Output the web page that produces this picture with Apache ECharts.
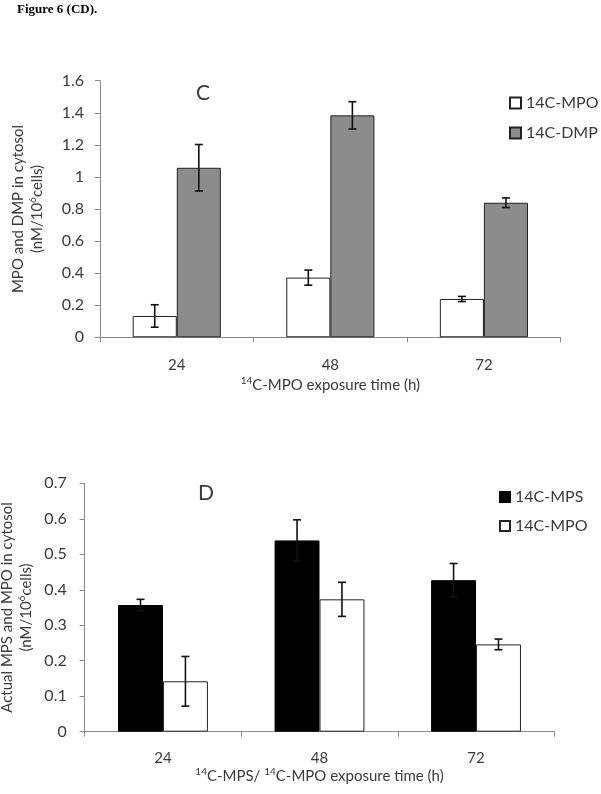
<!DOCTYPE html>
<html>
<head>
<meta charset="utf-8">
<script src="https://cdn.jsdelivr.net/npm/echarts@6/dist/echarts.min.js"></script>
<style>
html,body{margin:0;padding:0;background:#fff;}
#chart{width:601px;height:794px;}
</style>
</head>
<body>
<div id="chart"></div>
<script>
// ---- data ----
const categories = ['24', '48', '72'];
// Panel C
const cMpo = [0.133, 0.372, 0.239];
const cMpoErr = [0.07, 0.047, 0.016];
const cDmp = [1.057, 1.384, 0.839];
const cDmpErr = [0.145, 0.085, 0.03];
// Panel D
const dMps = [0.357, 0.539, 0.427];
const dMpsErr = [0.016, 0.058, 0.047];
const dMpo = [0.142, 0.373, 0.246];
const dMpoErr = [0.07, 0.048, 0.015];
// axis ranges
const cYMax = 1.6, cYStep = 0.2;
const dYMax = 0.7, dYStep = 0.1;

const FONT = 'Lato';
const TXT = '#3a3a3a';
const AX = '#8a8a8a';
const BAR_RATIO = 0.287;

const chart = echarts.init(document.getElementById('chart'), null, {renderer: 'canvas'});

function errSeries(vals, errs, side, xi) {
  return {
    type: 'custom',
    xAxisIndex: xi, yAxisIndex: xi,
    silent: true,
    z: 10,
    data: vals.map((v, i) => [i, v, errs[i]]),
    encode: {x: 0, y: 1},
    renderItem: function (params, api) {
      const i = api.value(0), v = api.value(1), e = api.value(2);
      const band = api.size([1, 0])[0];
      const x = api.coord([i, v])[0] + side * band * BAR_RATIO / 2;
      const yt = api.coord([i, v + e])[1];
      const yb = api.coord([i, v - e])[1];
      const w = 4;
      const st = {stroke: '#111', lineWidth: 1.6};
      return {
        type: 'group',
        children: [
          {type: 'line', shape: {x1: x, y1: yt, x2: x, y2: yb}, style: st},
          {type: 'line', shape: {x1: x - w, y1: yt, x2: x + w, y2: yt}, style: st},
          {type: 'line', shape: {x1: x - w, y1: yb, x2: x + w, y2: yb}, style: st}
        ]
      };
    }
  };
}

const axisNameRich = {
  a: {fontFamily: FONT, fontSize: 15, color: TXT, lineHeight: 19},
  s: {fontFamily: FONT, fontSize: 10, color: TXT, lineHeight: 19, verticalAlign: 'top', padding: [0, 0, 6, 0]}
};

function xAxisDef(gi, name, margin, nameGap) {
  return {
    type: 'category', gridIndex: gi, data: categories,
    axisLine: {lineStyle: {color: AX, width: 1}},
    axisTick: {show: true, length: 5, lineStyle: {color: AX}},
    axisLabel: {fontFamily: FONT, fontSize: 15, color: TXT, margin: margin},
    name: name, nameLocation: 'middle', nameGap: nameGap,
    nameTextStyle: {rich: axisNameRich}
  };
}

function yAxisDef(gi, max, step, name, nameGap, margin) {
  return {
    type: 'value', gridIndex: gi, min: 0, max: max, interval: step,
    axisLine: {show: true, lineStyle: {color: AX, width: 1}},
    axisTick: {show: true, length: 5, lineStyle: {color: AX}},
    splitLine: {show: false},
    axisLabel: {fontFamily: FONT, fontSize: 16, color: TXT, margin: margin,
      formatter: v => String(Math.round(v * 10) / 10)},
    name: name, nameLocation: 'middle', nameRotate: 90, nameGap: nameGap,
    nameTextStyle: {rich: axisNameRich}
  };
}

const option = {
  animation: false,
  backgroundColor: '#fff',
  grid: [
    {left: 100, right: 40.3, top: 80.7, bottom: 456.7, containLabel: false, outerBoundsMode: 'none'},
    {left: 84.7, right: 46.7, top: 483.3, bottom: 62.3, containLabel: false, outerBoundsMode: 'none'}
  ],
  xAxis: [
    xAxisDef(0, '{s|14}{a|C-MPO exposure time (h)}', 20, 38),
    xAxisDef(1, '{s|14}{a|C-MPS/ }{s|14}{a|C-MPO exposure time (h)}', 19, 33)
  ],
  yAxis: [
    yAxisDef(0, cYMax, cYStep, '{a|MPO and DMP in cytosol}\n{a|(nM/10}{s|6}{a|cells)}', 53, 16),
    yAxisDef(1, dYMax, dYStep, '{a|Actual MPS and MPO in cytosol}\n{a|(nM/10}{s|6}{a|cells)}', 38, 18)
  ],
  legend: [
    {
      data: ['14C-MPO', '14C-DMP'], orient: 'vertical',
      left: 504, top: 90, itemWidth: 11, itemHeight: 11, itemGap: 14,
      icon: 'rect',
      textStyle: {fontFamily: FONT, fontSize: 16, color: TXT}
    },
    {
      data: [{name: '14C-MPS'}, {name: '14C-MPO '}], orient: 'vertical',
      left: 494, top: 484, itemWidth: 10, itemHeight: 10, itemGap: 13,
      icon: 'rect',
      textStyle: {fontFamily: FONT, fontSize: 16, color: TXT}
    }
  ],
  graphic: [
    {type: 'text', left: 17, top: 3, style: {text: 'Figure 6 (CD).', font: 'bold 13px "Liberation Serif"', fill: '#000'}},
    {type: 'text', x: 203, y: 93, style: {text: 'C', font: '21px Lato', fill: TXT, textAlign: 'center', textVerticalAlign: 'middle'}},
    {type: 'text', x: 206, y: 493, style: {text: 'D', font: '21px Lato', fill: TXT, textAlign: 'center', textVerticalAlign: 'middle'}}
  ],
  series: [
    {name: '14C-MPO', type: 'bar', xAxisIndex: 0, yAxisIndex: 0, data: cMpo,
      barWidth: '28.7%', barGap: '0%',
      itemStyle: {color: '#ffffff', borderColor: '#222', borderWidth: 1}},
    {name: '14C-DMP', type: 'bar', xAxisIndex: 0, yAxisIndex: 0, data: cDmp,
      barWidth: '28.7%', barGap: '0%',
      itemStyle: {color: '#8c8c8c', borderColor: '#222', borderWidth: 1}},
    errSeries(cMpo, cMpoErr, -1, 0),
    errSeries(cDmp, cDmpErr, 1, 0),
    {name: '14C-MPS', type: 'bar', xAxisIndex: 1, yAxisIndex: 1, data: dMps,
      barWidth: '28.7%', barGap: '0%',
      itemStyle: {color: '#000000', borderColor: '#000', borderWidth: 1}},
    {name: '14C-MPO ', type: 'bar', xAxisIndex: 1, yAxisIndex: 1, data: dMpo,
      barWidth: '28.7%', barGap: '0%',
      itemStyle: {color: '#ffffff', borderColor: '#222', borderWidth: 1}},
    errSeries(dMps, dMpsErr, -1, 1),
    errSeries(dMpo, dMpoErr, 1, 1)
  ]
};
chart.setOption(option);
</script>
</body>
</html>
